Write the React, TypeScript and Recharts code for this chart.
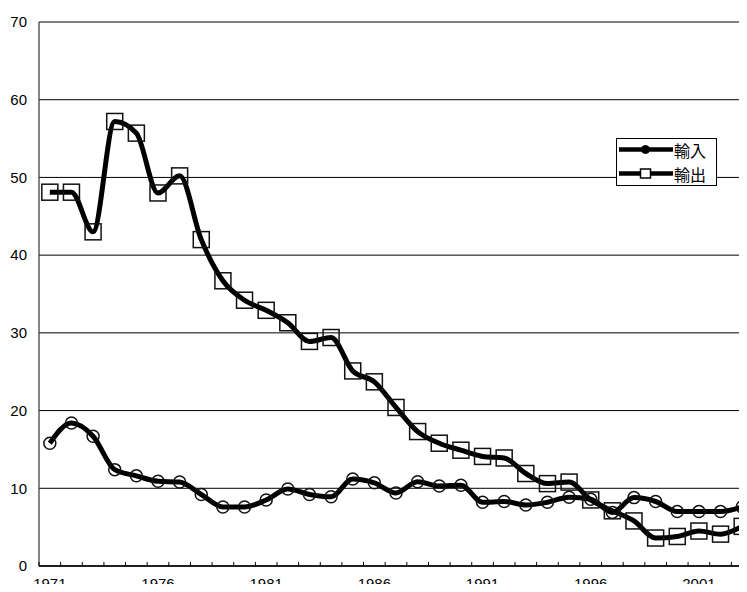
import React from "react";
import {
  LineChart,
  Line,
  XAxis,
  YAxis,
  CartesianGrid,
  Legend,
} from "recharts";

const years = [
  "1971", "1972", "1973", "1974", "1975", "1976", "1977", "1978", "1979", "1980",
  "1981", "1982", "1983", "1984", "1985", "1986", "1987", "1988", "1989", "1990",
  "1991", "1992", "1993", "1994", "1995", "1996", "1997", "1998", "1999", "2000",
  "2001", "2002", "2003",
];

// 輸入
const importValues = [
  15.8, 18.4, 16.7, 12.4, 11.6, 10.9, 10.8, 9.2, 7.6, 7.6,
  8.5, 9.9, 9.2, 8.9, 11.2, 10.7, 9.4, 10.85, 10.3, 10.4,
  8.2, 8.3, 7.85, 8.2, 8.85, 8.6, 6.9, 8.8, 8.3, 7.0,
  7.0, 7.0, 7.6,
];

// 輸出
const exportValues = [
  48.1, 48.1, 43.0, 57.2, 55.7, 48.0, 50.2, 42.0, 36.7, 34.2,
  32.9, 31.3, 28.9, 29.4, 25.1, 23.7, 20.4, 17.3, 15.8, 14.9,
  14.1, 13.9, 11.9, 10.6, 10.8, 8.5, 7.1, 5.8, 3.6, 3.8,
  4.5, 4.1, 5.1,
];

const yTicks = [0, 10, 20, 30, 40, 50, 60, 70];

const data = years.map((year, i) => ({
  year,
  import: importValues[i],
  export: exportValues[i],
}));

const CHART_W = 753;
const CHART_H = 600;
const AXIS_W = 39;
const HALF_BAND = (CHART_W - AXIS_W) / years.length / 2;
const FONT = "'Liberation Sans', Arial, sans-serif";

// category ticks sit on band edges, pointing up into the plot; year label every 5th
const YearTick = (props: any) => {
  const { x, y, payload, index } = props;
  return (
    <g>
      <line
        x1={x - HALF_BAND}
        x2={x - HALF_BAND}
        y1={y - 4}
        y2={y}
        stroke="#000"
        strokeWidth={1}
      />
      {index % 5 === 0 && (
        <text
          x={x}
          y={y + 23}
          textAnchor="middle"
          fontSize={15}
          fontFamily={FONT}
          fill="#000"
        >
          {payload.value}
        </text>
      )}
    </g>
  );
};

const SquareDot = (props: any) => {
  const { cx, cy, index } = props;
  if (cx == null || cy == null) return <g key={`sq-${index}`} />;
  return (
    <rect
      key={`sq-${index}`}
      x={cx - 8}
      y={cy - 8}
      width={16}
      height={16}
      fill="none"
      stroke="#111"
      strokeWidth={1.5}
    />
  );
};

const LegendBox = (props: any) => {
  const items = props.payload || [];
  return (
    <div
      style={{
        width: 101,
        height: 48,
        boxSizing: "border-box",
        border: "1px solid #000",
        background: "#fff",
      }}
    >
      <svg width={99} height={46} style={{ display: "block" }}>
        {items.map((item: any, i: number) => {
          const cy = 10.5 + i * 24;
          return (
            <g key={item.value}>
              <line x1={2} x2={56} y1={cy} y2={cy} stroke="#000" strokeWidth={4.5} />
              {i === 0 ? (
                <circle cx={28.5} cy={cy} r={4} fill="#000" stroke="#000" />
              ) : (
                <rect
                  x={23.5}
                  y={cy - 4.5}
                  width={10}
                  height={9}
                  fill="#fff"
                  stroke="#000"
                  strokeWidth={1.5}
                />
              )}
              <text
                x={57}
                y={cy}
                dominantBaseline="central"
                fontSize={16}
                fontFamily="'Noto Sans CJK JP', 'Noto Sans CJK TC', sans-serif"
                fill="#000"
              >
                {item.value}
              </text>
            </g>
          );
        })}
      </svg>
    </div>
  );
};

export default function App() {
  return (
    <div
      style={{
        margin: -8,
        width: 747,
        height: 592,
        overflow: "hidden",
        background: "#fff",
        position: "relative",
      }}
    >
      <LineChart
        width={CHART_W}
        height={CHART_H}
        data={data}
        margin={{ top: 22, right: 0, bottom: 0, left: 0 }}
      >
        <CartesianGrid vertical={false} stroke="#000" strokeWidth={1} />
        <XAxis
          dataKey="year"
          interval={0}
          height={CHART_H - 566}
          padding={{ left: HALF_BAND, right: HALF_BAND }}
          tickSize={0}
          tickMargin={0}
          tickLine={false}
          axisLine={{ stroke: "#000", strokeWidth: 1.6 }}
          tick={<YearTick />}
        />
        <YAxis
          width={AXIS_W}
          domain={[0, 70]}
          ticks={yTicks}
          interval={0}
          tickSize={0}
          tickMargin={12}
          tickLine={false}
          axisLine={{ stroke: "#333", strokeWidth: 1.2 }}
          tick={{ fontSize: 15, fontFamily: FONT, fill: "#000" }}
        />
        <Legend
          layout="vertical"
          align="center"
          verticalAlign="middle"
          wrapperStyle={{ left: 616, top: 138, width: 101, height: 48 }}
          content={<LegendBox />}
        />
        <Line
          name="輸入"
          type="monotone"
          dataKey="import"
          stroke="#000"
          strokeWidth={5}
          dot={{ r: 6, stroke: "#111", strokeWidth: 1.5, fill: "none" }}
          activeDot={false}
          isAnimationActive={false}
        />
        <Line
          name="輸出"
          type="monotone"
          dataKey="export"
          stroke="#000"
          strokeWidth={5}
          dot={<SquareDot />}
          activeDot={false}
          isAnimationActive={false}
        />
      </LineChart>
    </div>
  );
}
